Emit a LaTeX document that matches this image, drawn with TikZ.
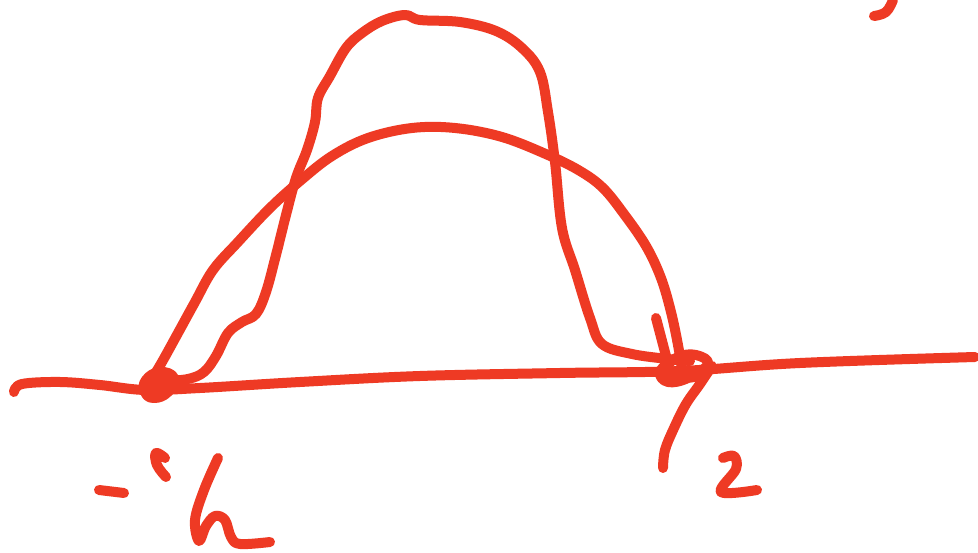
\documentclass[tikz,border=0pt]{standalone}
\usepackage{xcolor}
\definecolor{penred}{HTML}{EE3A24}
\begin{document}
\begin{tikzpicture}[x=1pt,y=-1pt,
  pen/.style={draw=penred,line width=10pt,line cap=round,line join=round}]
\useasboundingbox[fill=white] (0,0) rectangle (978,553);
% axis
\draw[pen] plot[smooth,tension=0.6] coordinates {(14,392) (22,384) (60,382) (100,385) (145,390) (200,388) (300,382) (420,376) (560,373) (680,371) (800,363) (975,357)};
% wide hump
\draw[pen] plot[smooth,tension=0.6] coordinates {(150,382) (162,362) (178,333) (195,302) (213,270) (238,242) (270,208) (300,181) (332,156) (368,138) (412,128) (455,128) (502,137) (548,155) (580,171) (603,188) (624,214) (646,246) (661,278) (671,312) (678,345) (682,370)};
% tall hump
\draw[pen] plot[smooth,tension=0.6] coordinates {(165,381) (188,379) (204,372) (216,356) (228,333) (242,322) (256,314) (266,292) (276,255) (286,215) (296,178) (307,150) (315,122) (318,98) (330,76) (346,48) (362,33) (382,21) (405,15) (420,20) (460,22) (496,31) (522,48) (540,72) (548,112) (555,162) (562,228) (575,270) (590,318) (602,344) (632,354) (668,359) (690,361)};
% left knot
\draw[pen,fill=penred] plot[smooth cycle,tension=0.8] coordinates {(146,380) (160,372) (174,378) (168,392) (154,398) (145,392)};
% right knot and descending stroke
\draw[pen] plot[smooth,tension=0.7] coordinates {(672,360) (660,372) (668,382) (688,378) (708,364) (696,355) (678,357) (667,368) (676,378) (700,376)};
\draw[pen] plot[smooth,tension=0.6] coordinates {(712,366) (700,384) (686,404) (674,428) (665,450) (663,468)};
\draw[pen] (656,318) -- (666,356);
% label -'h
\draw[pen] (99,490) -- (124,493);
\draw[pen] plot[smooth,tension=0.7] coordinates {(165,458) (156,453) (157,465) (166,477)};
\draw[pen] plot[smooth,tension=0.6] coordinates {(218,458) (204,490) (195,520) (199,541) (206,526) (215,516) (225,520) (231,537) (240,544) (270,542)};
% label 2
\draw[pen] plot[smooth,tension=0.6] coordinates {(723,458) (734,456) (736,469) (721,492) (757,490)};
% top-right mark
\draw[pen] plot[smooth,tension=0.7] coordinates {(874,16) (886,12) (893,0)};
\end{tikzpicture}
\end{document}
